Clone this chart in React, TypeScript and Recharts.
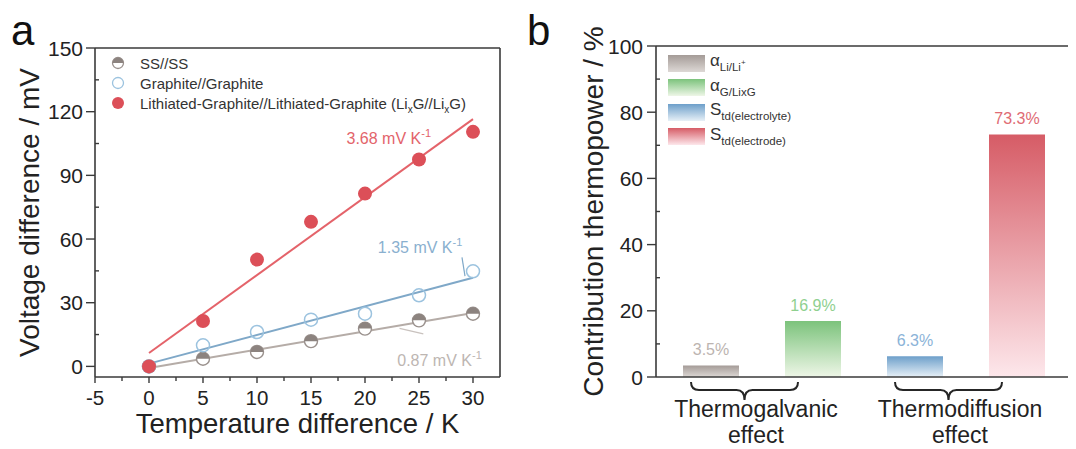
import React from 'react';
import {
  ComposedChart,
  Scatter,
  XAxis,
  YAxis,
  ReferenceLine,
  ReferenceDot,
  Legend,
  BarChart,
  Bar,
  Cell,
  LabelList,
} from 'recharts';

const FONT = '"Liberation Sans", Arial, Helvetica, sans-serif';
const AXIS = '#3a3a3a';
const TEXT = '#222222';

// ---------- Panel a data ----------
const temperatureDiff = [0, 5, 10, 15, 20, 25, 30];
const ssVoltage = [0, 3.6, 6.8, 11.9, 17.8, 21.7, 24.8];
const graphiteVoltage = [0, 9.9, 16.2, 22.0, 24.8, 33.5, 44.8];
const lixgVoltage = [0, 21.4, 50.3, 68.1, 81.4, 97.5, 110.5];
const fitRange = [0, 30];
const ssFit = [-0.8, 25.2];
const graphiteFit = [1.3, 41.8];
const lixgFit = [6.3, 116.5];
const slopeValues = ['0.87', '1.35', '3.68'];
const xTicksA = [-5, -2.5, 0, 2.5, 5, 7.5, 10, 12.5, 15, 17.5, 20, 22.5, 25, 27.5, 30];
const yTicksA = [0, 15, 30, 45, 60, 75, 90, 105, 120, 135, 150];

// ---------- Panel b data ----------
const contributionKeys = ['aLi', 'aG', 'sElectrolyte', 'sElectrode'];
const contributionValues = [3.5, 16.9, 6.3, 73.3];
const effectGroups = ['Thermogalvanic', 'Thermodiffusion'];
const yTicksB = [0, 10, 20, 30, 40, 50, 60, 70, 80, 90, 100];

const barTop = ['#a49b97', '#7cc37c', '#6d9fca', '#d65c66'];
const barBottom = ['#ddd8d5', '#eef6e7', '#e7f0f7', '#fde7eb'];
const barLabelColor = ['#bcb4b0', '#8fd08f', '#8bb3d8', '#e06b74'];

const COL = {
  ssFill: '#8c837f',
  ssStroke: '#9a918d',
  ssLine: '#b5aca7',
  grStroke: '#9cc3df',
  grLine: '#7fa8c8',
  liFill: '#dc4f58',
  liLine: '#e4636a',
};

const toPoints = (xs: number[], ys: number[]) => xs.map((x, i) => ({ x, y: ys[i] }));
const ssData = toPoints(temperatureDiff, ssVoltage);
const graphiteData = toPoints(temperatureDiff, graphiteVoltage);
const lixgData = toPoints(temperatureDiff, lixgVoltage);
const ssFitData = toPoints(fitRange, ssFit);
const graphiteFitData = toPoints(fitRange, graphiteFit);
const lixgFitData = toPoints(fitRange, lixgFit);

const barData = contributionKeys.map((k, i) => ({ name: k, value: contributionValues[i] }));

// ---------- shapes ----------
const HalfFilled = (p: any) => {
  const { cx, cy } = p;
  const r = 6.5;
  if (cx == null || cy == null) return <g />;
  return (
    <g>
      <circle cx={cx} cy={cy} r={r} fill="#ffffff" stroke={COL.ssStroke} strokeWidth={1.4} />
      <path d={`M${cx - r},${cy} A${r},${r} 0 0 1 ${cx + r},${cy} Z`} fill={COL.ssFill} />
    </g>
  );
};
const OpenCircle = (p: any) => {
  if (p.cx == null) return <g />;
  return <circle cx={p.cx} cy={p.cy} r={6.5} fill="none" stroke={COL.grStroke} strokeWidth={1.5} />;
};
const FilledDot = (p: any) => {
  if (p.cx == null) return <g />;
  return <circle cx={p.cx} cy={p.cy} r={7} fill={COL.liFill} />;
};
const NoShape = () => <g />;

// ---------- ticks ----------
const XTickA = (p: any) => {
  const { x, y, payload } = p;
  const v = payload.value;
  const major = v % 5 === 0;
  return (
    <g>
      <line x1={x} x2={x} y1={y} y2={y + (major ? 6 : 4)} stroke={AXIS} strokeWidth={1.4} />
      {major && (
        <text x={x} y={y + 28} textAnchor="middle" fontSize={20.5} fontFamily={FONT} fill={TEXT}>
          {String(v)}
        </text>
      )}
    </g>
  );
};

const YTickA = (p: any) => {
  const { x, y, payload } = p;
  const v = payload.value;
  const major = v % 30 === 0;
  return (
    <g>
      {major ? (
        <line x1={x - 9} x2={x} y1={y} y2={y} stroke={AXIS} strokeWidth={1.4} />
      ) : (
        <line x1={x} x2={x + 4} y1={y} y2={y} stroke={AXIS} strokeWidth={1.4} />
      )}
      {major && (
        <text x={x - 12} y={y + 7.5} textAnchor="end" fontSize={21} fontFamily={FONT} fill={TEXT}>
          {String(v)}
        </text>
      )}
    </g>
  );
};

const YTickB = (p: any) => {
  const { x, y, payload } = p;
  const v = payload.value;
  const major = v % 20 === 0;
  return (
    <g>
      {major ? (
        <line x1={x - 9} x2={x} y1={y} y2={y} stroke={AXIS} strokeWidth={1.4} />
      ) : (
        <line x1={x} x2={x + 4} y1={y} y2={y} stroke={AXIS} strokeWidth={1.4} />
      )}
      {major && (
        <text x={x - 13} y={y + 7.5} textAnchor="end" fontSize={21} fontFamily={FONT} fill={TEXT}>
          {String(v)}
        </text>
      )}
    </g>
  );
};

const BraceTick = (p: any) => {
  const { x, y, payload, index } = p;
  const idx = typeof index === 'number' ? index : contributionKeys.indexOf(payload.value);
  if (idx % 2 !== 0) return <g />;
  const half = payload && typeof payload.offset === 'number' && payload.offset > 0 ? payload.offset : 51;
  const x1 = x + 2 * half;
  const L = x - 20;
  const R = x1 - 15;
  const M = (L + R) / 2;
  const y0 = y + 5;
  const ym = y + 13;
  const yt = y + 23;
  const d = `M${L},${y0} Q${L},${ym} ${L + 8},${ym} L${M - 8},${ym} Q${M},${ym} ${M},${yt} Q${M},${ym} ${M + 8},${ym} L${R - 8},${ym} Q${R},${ym} ${R},${y0}`;
  const tx = (x + x1) / 2 - 6;
  return (
    <g>
      <path d={d} fill="none" stroke="#262626" strokeWidth={2} />
      <text x={tx} y={y + 40} textAnchor="middle" fontSize={23} fontFamily={FONT} fill={TEXT}>
        {effectGroups[idx / 2]}
      </text>
      <text x={tx} y={y + 66} textAnchor="middle" fontSize={23} fontFamily={FONT} fill={TEXT}>
        effect
      </text>
    </g>
  );
};

// ---------- labels ----------
const SlopeLabel = (p: any) => {
  const vb = p.viewBox || {};
  const cx = (vb.x || 0) + (vb.width || 0) / 2;
  const cy = (vb.y || 0) + (vb.height || 0) / 2;
  return (
    <text x={cx} y={cy + 6} textAnchor="middle" fontSize={16} fontFamily={FONT} fill={p.color}>
      {p.text} mV K
      <tspan dy={-7} fontSize={11}>
        -1
      </tspan>
    </text>
  );
};

const BarValueLabel = (p: any) => {
  const vb = p.viewBox || p;
  const x = vb.x;
  const y = vb.y;
  const w = vb.width;
  const v = Number(p.value);
  const i = contributionValues.indexOf(v);
  return (
    <text x={x + w / 2} y={y - 10} textAnchor="middle" fontSize={16} fontFamily={FONT} fill={barLabelColor[i] || '#999'}>
      {`${v}%`}
    </text>
  );
};

// ---------- legends ----------
const LegendA = () => {
  const rows = [
    {
      icon: (
        <svg width={16} height={16}>
          <circle cx={8} cy={8} r={5.5} fill="#fff" stroke={COL.ssStroke} strokeWidth={1.3} />
          <path d="M2.5,8 A5.5,5.5 0 0 1 13.5,8 Z" fill={COL.ssFill} />
        </svg>
      ),
      label: <span>SS//SS</span>,
    },
    {
      icon: (
        <svg width={16} height={16}>
          <circle cx={8} cy={8} r={5.5} fill="none" stroke={COL.grStroke} strokeWidth={1.3} />
        </svg>
      ),
      label: <span>Graphite//Graphite</span>,
    },
    {
      icon: (
        <svg width={16} height={16}>
          <circle cx={8} cy={8} r={6} fill={COL.liFill} />
        </svg>
      ),
      label: (
        <span>
          Lithiated-Graphite//Lithiated-Graphite (Li
          <span style={{ fontSize: 10, position: 'relative', top: 4 }}>x</span>G//Li
          <span style={{ fontSize: 10, position: 'relative', top: 4 }}>x</span>G)
        </span>
      ),
    },
  ];
  return (
    <div style={{ fontFamily: FONT, fontSize: 15, color: '#333', whiteSpace: 'nowrap' }}>
      {rows.map((r, i) => (
        <div key={i} style={{ display: 'flex', alignItems: 'center', height: 20 }}>
          {r.icon}
          <span style={{ marginLeft: 14 }}>{r.label}</span>
        </div>
      ))}
    </div>
  );
};

const LegendB = () => {
  const sub = (t: React.ReactNode) => (
    <span style={{ fontSize: 11.5, position: 'relative', top: 5 }}>{t}</span>
  );
  const labels = [
    <span>
      α{sub(<>Li/Li<span style={{ fontSize: 8, position: 'relative', top: -6 }}>+</span></>)}
    </span>,
    <span>α{sub('G/LixG')}</span>,
    <span>S{sub('td(electrolyte)')}</span>,
    <span>S{sub('td(electrode)')}</span>,
  ];
  return (
    <div style={{ fontFamily: FONT, fontSize: 17, color: '#333', whiteSpace: 'nowrap' }}>
      {labels.map((l, i) => (
        <div key={i} style={{ display: 'flex', alignItems: 'center', height: 24.5 }}>
          <div
            style={{
              width: 37,
              height: 17,
              background: `linear-gradient(to bottom, ${barTop[i]}, ${barBottom[i]})`,
            }}
          />
          <span style={{ marginLeft: 5, position: 'relative', top: -2 }}>{l}</span>
        </div>
      ))}
    </div>
  );
};

// ---------- charts ----------
const PanelA = () => (
  <ComposedChart width={530} height={449} margin={{ top: 48, right: 30, bottom: 0, left: 0 }}>
    <XAxis
      type="number"
      dataKey="x"
      domain={[-5, 32.5]}
      ticks={xTicksA}
      interval={0}
      allowDataOverflow
      height={72}
      tickSize={0}
      tickMargin={0}
      tickLine={false}
      axisLine={{ stroke: AXIS, strokeWidth: 1.6 }}
      tick={(p: any) => <XTickA {...p} />}
      label={(p: any) => {
        const vb = p.viewBox || {};
        return (
          <text x={vb.x + vb.width / 2} y={vb.y + 56} textAnchor="middle" fontSize={27.5} fontFamily={FONT} fill={TEXT}>
            Temperature difference / K
          </text>
        );
      }}
    />
    <YAxis
      type="number"
      dataKey="y"
      domain={[-5, 150]}
      ticks={yTicksA}
      interval={0}
      allowDataOverflow
      width={95}
      tickSize={0}
      tickMargin={0}
      tickLine={false}
      axisLine={{ stroke: AXIS, strokeWidth: 1.6 }}
      tick={(p: any) => <YTickA {...p} />}
      label={(p: any) => {
        const vb = p.viewBox || {};
        const cy = vb.y + vb.height / 2;
        return (
          <text x={39} y={cy} transform={`rotate(-90, 39, ${cy})`} textAnchor="middle" fontSize={28} fontFamily={FONT} fill={TEXT}>
            Voltage difference / mV
          </text>
        );
      }}
    />
    <ReferenceLine y={150} stroke={AXIS} strokeWidth={1.6} />
    <ReferenceLine x={32.5} stroke={AXIS} strokeWidth={1.6} />

    <Scatter data={ssFitData} line={{ stroke: COL.ssLine, strokeWidth: 2 }} shape={NoShape} isAnimationActive={false} legendType="none" />
    <Scatter data={graphiteFitData} line={{ stroke: COL.grLine, strokeWidth: 2 }} shape={NoShape} isAnimationActive={false} legendType="none" />
    <Scatter data={lixgFitData} line={{ stroke: COL.liLine, strokeWidth: 2 }} shape={NoShape} isAnimationActive={false} legendType="none" />

    <ReferenceLine segment={[{ x: 28.98, y: 51.4 }, { x: 29.26, y: 42.5 }]} stroke={COL.grLine} strokeWidth={1.2} />
    <ReferenceLine segment={[{ x: 23.2, y: 17.9 }, { x: 25.4, y: 15.3 }]} stroke="#c9c2be" strokeWidth={1.2} />

    <Scatter data={ssData} shape={HalfFilled} isAnimationActive={false} />
    <Scatter data={graphiteData} shape={OpenCircle} isAnimationActive={false} />
    <Scatter data={lixgData} shape={FilledDot} isAnimationActive={false} />

    <ReferenceDot x={22.2} y={107.5} r={0} stroke="none" label={<SlopeLabel text={slopeValues[2]} color="#e3646b" />} />
    <ReferenceDot x={25.1} y={56.1} r={0} stroke="none" label={<SlopeLabel text={slopeValues[1]} color="#8ab0cf" />} />
    <ReferenceDot x={26.9} y={2.8} r={0} stroke="none" label={<SlopeLabel text={slopeValues[0]} color="#bdb6b2" />} />

    <Legend
      layout="vertical"
      align="center"
      verticalAlign="middle"
      content={() => <LegendA />}
      wrapperStyle={{ left: 110, top: 53, width: 400, height: 60 }}
    />
  </ComposedChart>
);

const PanelB = () => (
  <BarChart
    width={536}
    height={449}
    data={barData}
    margin={{ top: 46, right: 8, bottom: 0, left: 0 }}
    barSize={56}
  >
    <defs>
      {barTop.map((c, i) => (
        <linearGradient key={i} id={`barGrad${i}`} x1="0" y1="0" x2="0" y2="1">
          <stop offset="0%" stopColor={c} />
          <stop offset="100%" stopColor={barBottom[i]} />
        </linearGradient>
      ))}
    </defs>
    <XAxis
      dataKey="name"
      height={72}
      interval={0}
      padding={{ left: 4, right: 0 }}
      tickSize={0}
      tickMargin={0}
      tickLine={false}
      axisLine={{ stroke: AXIS, strokeWidth: 1.6 }}
      tick={(p: any) => <BraceTick {...p} />}
    />
    <YAxis
      type="number"
      domain={[0, 100]}
      ticks={yTicksB}
      interval={0}
      width={116}
      tickSize={0}
      tickMargin={0}
      tickLine={false}
      axisLine={{ stroke: AXIS, strokeWidth: 1.6 }}
      tick={(p: any) => <YTickB {...p} />}
      label={(p: any) => {
        const vb = p.viewBox || {};
        const cy = vb.y + vb.height / 2;
        return (
          <text x={63} y={cy} transform={`rotate(-90, 63, ${cy})`} textAnchor="middle" fontSize={28} fontFamily={FONT} fill={TEXT}>
            Contribution thermopower / %
          </text>
        );
      }}
    />
    <YAxis
      yAxisId="right"
      orientation="right"
      type="number"
      domain={[0, 100]}
      width={0}
      tick={false}
      tickLine={false}
      axisLine={{ stroke: AXIS, strokeWidth: 1.6 }}
    />
    <ReferenceLine y={100} stroke={AXIS} strokeWidth={1.6} />
    <Bar dataKey="value" isAnimationActive={false}>
      {barData.map((d, i) => (
        <Cell key={d.name} fill={`url(#barGrad${i})`} />
      ))}
      <LabelList dataKey="value" content={(p: any) => <BarValueLabel {...p} />} />
    </Bar>
    <Legend
      layout="vertical"
      align="center"
      verticalAlign="middle"
      content={() => <LegendB />}
      wrapperStyle={{ left: 128, top: 51, width: 200, height: 100 }}
    />
  </BarChart>
);

export default function App() {
  return (
    <div style={{ position: 'absolute', left: 0, top: 0, width: 1076, height: 449, background: '#fff', overflow: 'hidden' }}>
      <div style={{ position: 'absolute', left: 0, top: 0 }}>
        <PanelA />
      </div>
      <div style={{ position: 'absolute', left: 540, top: 0 }}>
        <PanelB />
      </div>
      <div style={{ position: 'absolute', left: 11, top: 10, fontFamily: FONT, fontSize: 42, lineHeight: '42px', color: '#111' }}>a</div>
      <div style={{ position: 'absolute', left: 527, top: 10, fontFamily: FONT, fontSize: 42, lineHeight: '42px', color: '#111' }}>b</div>
    </div>
  );
}
